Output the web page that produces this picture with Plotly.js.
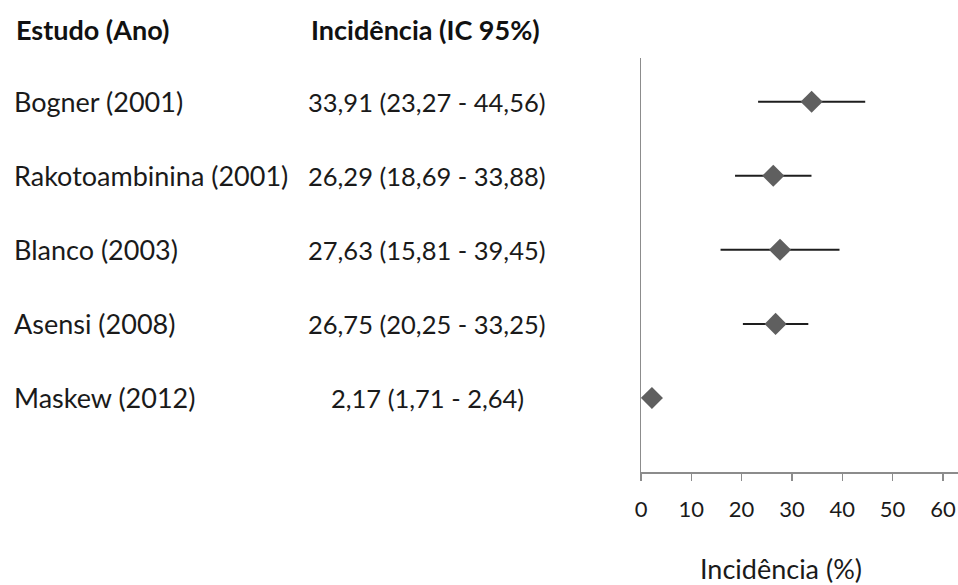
<!DOCTYPE html>
<html><head><meta charset="utf-8">
<script src="https://cdn.plot.ly/plotly-3.0.1.min.js"></script>
<style>html,body{margin:0;padding:0;background:#fff;}#chart{width:958px;height:585px;}</style>
</head><body><div id="chart"></div>
<script>
var studies = ["Bogner (2001)", "Rakotoambinina (2001)", "Blanco (2003)", "Asensi (2008)", "Maskew (2012)"];
var incidence = [33.91, 26.29, 27.63, 26.75, 2.17];
var ciLow = [23.27, 18.69, 15.81, 20.25, 1.71];
var ciHigh = [44.56, 33.88, 39.45, 33.25, 2.64];
var rowPos = [5, 4, 3, 2, 1];
var xTicks = [0, 10, 20, 30, 40, 50, 60];
var headerStudy = "Estudo (Ano)";
var headerCI = "Incidência (IC 95%)";
var axisTitle = "Incidência (%)";

function fmt(v){ return v.toFixed(2).replace('.', ','); }

var trace = {
  x: incidence, y: rowPos, type: 'scatter', mode: 'markers',
  marker: {symbol: 'diamond', size: 17, color: '#5f5f5f'},
  error_x: {type: 'data', symmetric: false,
    array: incidence.map(function(v,i){return ciHigh[i]-v;}),
    arrayminus: incidence.map(function(v,i){return v-ciLow[i];}),
    color: '#1e1e1e', thickness: 2, width: 0},
  hoverinfo: 'skip', showlegend: false
};

var plotL = 641, plotW = 317, plotT = 58, plotH = 414;
function px2paper(p){ return (p - plotL)/plotW; }
function py2paper(p){ return (plotT + plotH - p)/plotH; }
var font = 'Lato, "Open Sans", sans-serif';
var ann = [];
ann.push({xref:'paper', yref:'paper', x:px2paper(14), y:py2paper(30), xanchor:'left', yanchor:'middle', showarrow:false,
  text:'<b>'+headerStudy+'</b>', font:{family:font, size:27, color:'#111'}});
ann.push({xref:'paper', yref:'paper', x:px2paper(425), y:py2paper(30), xanchor:'center', yanchor:'middle', showarrow:false,
  text:'<b>'+headerCI+'</b>', font:{family:font, size:27, color:'#111'}});
studies.forEach(function(s,i){
  ann.push({xref:'paper', yref:'y', x:px2paper(12), y:rowPos[i], xanchor:'left', yanchor:'middle', showarrow:false,
    text:s, font:{family:font, size:27, color:'#1a1a1a'}});
  ann.push({xref:'paper', yref:'y', x:px2paper(427), y:rowPos[i], xanchor:'center', yanchor:'middle', showarrow:false,
    text:fmt(incidence[i])+' ('+fmt(ciLow[i])+' - '+fmt(ciHigh[i])+')', font:{family:font, size:25.5, color:'#1a1a1a'}});
});
ann.push({xref:'paper', yref:'paper', x:px2paper(781), y:py2paper(568), xanchor:'center', yanchor:'middle', showarrow:false,
  text:axisTitle, font:{family:font, size:27, color:'#1a1a1a'}});

var layout = {
  width: 958, height: 585,
  margin: {l: plotL, r: 0, t: plotT, b: 585 - plotT - plotH},
  paper_bgcolor: '#fff', plot_bgcolor: '#fff',
  xaxis: {range: [0, 63], tickvals: xTicks, ticktext: xTicks.map(String), showline: true, linecolor: '#8c8c8c', linewidth: 1.5,
    ticks: 'outside', ticklen: 7, tickwidth: 1.5, tickcolor: '#8c8c8c', showgrid: false, zeroline: false,
    ticklabelstandoff: 10,
    tickfont: {family: font, size: 22, color: '#1a1a1a'}},
  yaxis: {range: [0, 5.59], showline: true, linecolor: '#8c8c8c', linewidth: 1.5, showticklabels: false, ticks: '',
    showgrid: false, zeroline: false},
  annotations: ann
};
Plotly.newPlot('chart', [trace], layout, {staticPlot: true});
</script></body></html>
